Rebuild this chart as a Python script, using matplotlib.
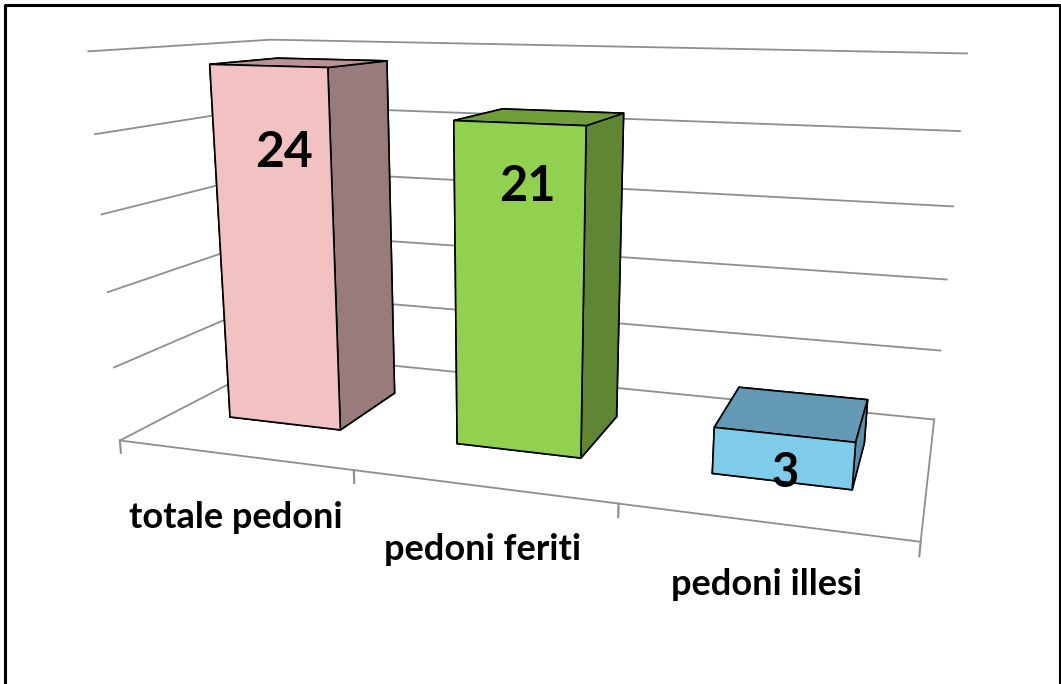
import matplotlib
matplotlib.use("Agg")
import matplotlib.pyplot as plt
from matplotlib.lines import Line2D
from mpl_toolkits.mplot3d import proj3d

categories = ["totale pedoni", "pedoni feriti", "pedoni illesi"]
values = [24, 21, 3]
grid_levels = [0, 5, 10, 15, 20, 25]

# face colours: front, side, top
front_colors = ["#F2C2C3", "#92D14F", "#7FCBEA"]
side_colors = ["#9A7B7C", "#5F8633", "#5B90AD"]
top_colors = ["#BC9293", "#709E38", "#6399B4"]

# label anchors in data space
value_x = [0.553, 1.532, 2.514]
value_z = [18.55, 17.15, 0.6]
value_size = [36, 35, 34]
label_x = [0.495, 1.50, 2.52]
label_z = [-4.3, -4.1, -3.8]

GRID = "#8E8E8E"
W, H = 1061, 684

plt.rcParams["font.family"] = ["Lato", "DejaVu Sans"]

fig = plt.figure(figsize=(W / 100, H / 100), dpi=100)

# camera found from the vanishing points of the floor and walls
cx, cy, half = 540, 345, 534
ax = fig.add_axes(
    [(cx - half) / W, (H - cy - half) / H, 2 * half / W, 2 * half / H],
    projection="3d",
    computed_zorder=False,
)
ax.set_proj_type("persp", focal_length=0.2457)
ax.view_init(elev=15.1, azim=-72.1, roll=-0.4)
ax.set_xlim(0, 3)
ax.set_ylim(0, 1)
ax.set_zlim(-13.1, 25)
ax.set_box_aspect((1.766, 0.775, 1.325), zoom=0.992)
ax.set_axis_off()
ax.patch.set_alpha(0)
ax.viewLim.intervalx = (-0.1, 0.1)
ax.viewLim.intervaly = (-0.1, 0.1)

# walls: only the horizontal grid lines are drawn
for level in grid_levels:
    ax.plot([0, 0, 3], [0, 1, 1], [level, level, level], color=GRID, lw=1.3, zorder=1)

# floor front and right edges with the ticks below
ax.plot([0, 3, 3], [0, 0, 1], [0, 0, 0], color=GRID, lw=1.3, zorder=1)
for i in range(len(categories) + 1):
    ax.plot([i, i], [0, 0], [0, -0.85], color=GRID, lw=1.5, zorder=1)

for i, v in enumerate(values):
    face_colors = [
        top_colors[i],
        top_colors[i],
        front_colors[i],
        side_colors[i],
        side_colors[i],
        side_colors[i],
    ]
    ax.bar3d(
        i + 0.25, 0.3, 0, 0.5, 0.4, v,
        color=face_colors,
        edgecolor="black",
        linewidth=1.2,
        shade=False,
        zorder=3 + i,
    )


def put_text(x, y, z, s, size):
    # project by hand so the text is an ordinary 2D artist
    px, py, _ = proj3d.proj_transform(x, y, z, ax.get_proj())
    ax.text2D(
        px, py, s, transform=ax.transData,
        ha="center", va="center", fontsize=size, fontweight="bold",
        color="black", zorder=10,
    )


for i, v in enumerate(values):
    put_text(value_x[i], 0.3, value_z[i], str(v), value_size[i])

for i, name in enumerate(categories):
    put_text(label_x[i], 0, label_z[i], name, 26)

# picture frame: left, top, right only
frame_x = [4.5 / W, 4.5 / W, (W - 1.5) / W, (W - 1.5) / W]
frame_y = [0, 1 - 5 / H, 1 - 5 / H, 0]
fig.add_artist(Line2D(frame_x, frame_y, color="black", lw=2.2, transform=fig.transFigure))

fig.savefig("out.png", dpi=100)
